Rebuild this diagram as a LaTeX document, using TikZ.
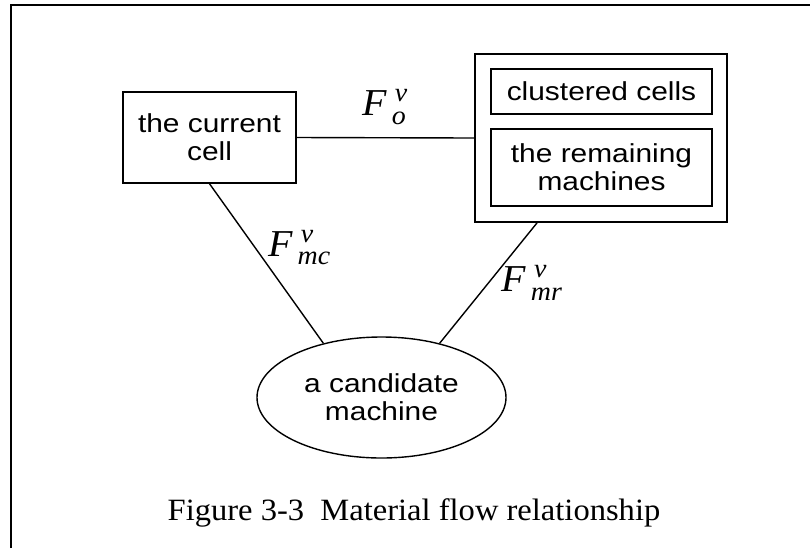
\documentclass[tikz,border=0pt]{standalone}
\usepackage{amsmath}
\usepackage{fontspec}
\setmainfont{Liberation Serif}[FakeStretch=1.05]
\setsansfont{Liberation Sans}[FakeStretch=1.15]
\usetikzlibrary{positioning}
\usetikzlibrary{shapes.geometric}

\newcommand{\flowF}[1]{$\textit{F}^{\;\textit{v}}_{\,\textit{#1}}$}

\begin{document}
\begin{tikzpicture}[x=0.5pt, y=-0.5pt,
			cellbox/.style={
				draw,
				rectangle,
				inner sep=0pt,
				align=center,
				font=\sffamily\fontsize{13}{14}\selectfont,
			},
			machine/.style={
				draw,
				ellipse,
				inner sep=0pt,
				minimum width=124.5pt,
				minimum height=60.5pt,
				align=center,
				font=\sffamily\fontsize{13}{14}\selectfont,
			},
			flowlabel/.style={font=\fontsize{19}{20}\selectfont},
			line width=0.7pt]
		\useasboundingbox (0,0) rectangle (810,548);
		\draw[line width=1pt] (11,548) -- (11,5) -- (810,5);
		
		\node[cellbox, minimum width=86.5pt, minimum height=45.5pt] (cur) at (209.5,137.5) {the current\\cell};
		\node[cellbox, minimum width=126pt, minimum height=84pt] (grp) at (601,138) {};
		\node[cellbox, minimum width=110.5pt, minimum height=22.5pt] (clu) at (601.5,91.5) {clustered cells};
		\node[cellbox, minimum width=110.5pt, minimum height=38.5pt] (rem) at (601.5,167.5) {the remaining\\machines};
		\node[machine] (cand) at (381.5,397.5) {a candidate\\machine};
		
		\draw (cur.east) -- (grp.west) node[midway, above=3pt, flowlabel]{\flowF{o}};
		\draw (cur.south) -- (cand.137.6) node[pos=.4, right=3pt, flowlabel]{\flowF{mc}};
		\draw (grp.233) -- (cand.43.7) node[pos=.5, right=3pt, flowlabel]{\flowF{mr}};
		
		\node[font=\fontsize{15.5}{17}\selectfont] (cap) at (414,513) {Figure 3-3\ \ Material flow relationship};
	\end{tikzpicture}
\end{document}
